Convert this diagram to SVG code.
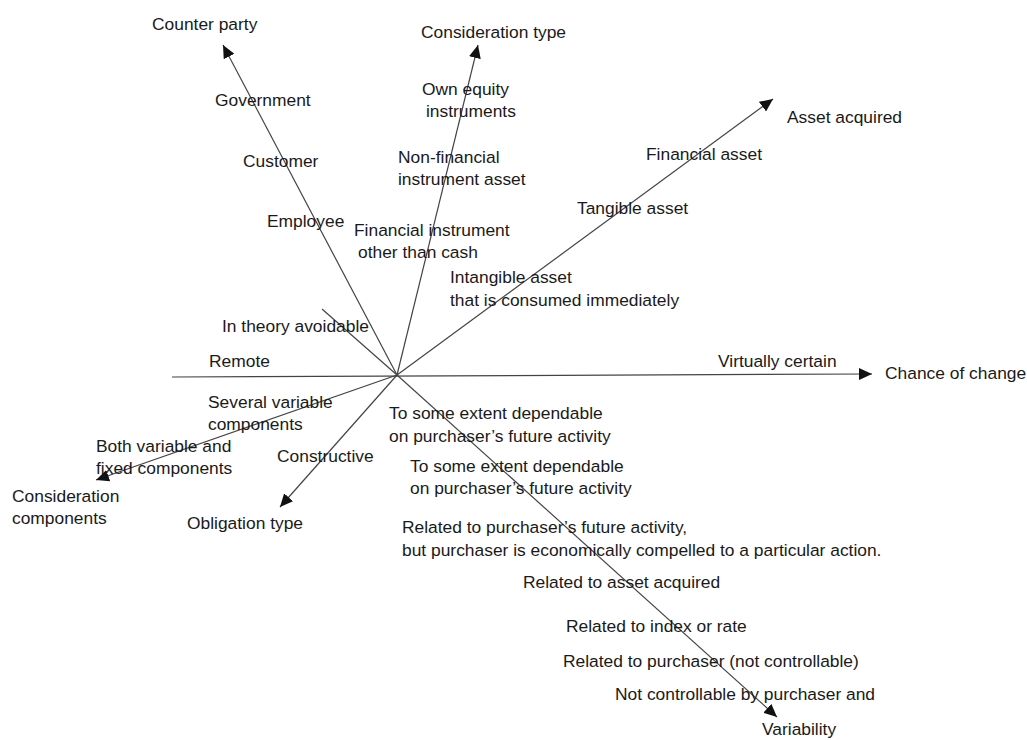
<svg xmlns="http://www.w3.org/2000/svg" width="1027" height="740" viewBox="0 0 1027 740">
<defs>
<marker id="ah" markerUnits="userSpaceOnUse" markerWidth="14" markerHeight="12" viewBox="0 0 14 12" refX="13" refY="6" orient="auto">
<path d="M0,0 L13,6 L0,12 Z" fill="#111"/>
</marker>
<style>
.ax{stroke:#444;stroke-width:1.2;fill:none}
.arr{marker-end:url(#ah)}
text{font-family:"Liberation Sans",Arial,sans-serif;font-size:17.4px;fill:#1a1a1a}
</style>
</defs>
<rect width="1027" height="740" fill="#fff"/>
<g id="connectors">
<line class="ax arr" x1="397" y1="375" x2="223" y2="45"/>
<line class="ax arr" x1="397" y1="375" x2="478" y2="45"/>
<line class="ax arr" x1="397" y1="375" x2="773" y2="99"/>
<line class="ax arr" x1="172" y1="377" x2="872" y2="374"/>
<line class="ax arr" x1="397" y1="375" x2="96" y2="480"/>
<line class="ax arr" x1="397" y1="375" x2="280" y2="507"/>
<line class="ax arr" x1="397" y1="375" x2="777" y2="717"/>
<line class="ax" x1="322" y1="309" x2="397" y2="375"/>
</g>
<g id="counter-party">
<text x="152" y="30">Counter party</text>
<text x="215" y="106">Government</text>
<text x="243" y="167">Customer</text>
<text x="267" y="227">Employee</text>
</g>
<g id="consideration-type">
<text x="421" y="38">Consideration type</text>
<text x="422" y="95">Own equity</text>
<text x="426" y="117">instruments</text>
<text x="398" y="163">Non-financial</text>
<text x="398" y="185">instrument asset</text>
<text x="354" y="236">Financial instrument</text>
<text x="358" y="258">other than cash</text>
</g>
<g id="asset-acquired">
<text x="787" y="123">Asset acquired</text>
<text x="646" y="160">Financial asset</text>
<text x="577" y="214">Tangible asset</text>
<text x="450" y="283">Intangible asset</text>
<text x="450" y="306">that is consumed immediately</text>
</g>
<g id="chance-of-change">
<text x="885" y="379">Chance of change</text>
<text x="718" y="367">Virtually certain</text>
<text x="209" y="367">Remote</text>
<text x="222" y="332">In theory avoidable</text>
</g>
<g id="consideration-components">
<text x="12" y="502">Consideration</text>
<text x="12" y="524">components</text>
<text x="208" y="408">Several variable</text>
<text x="208" y="430">components</text>
<text x="96" y="452">Both variable and</text>
<text x="96" y="474">fixed components</text>
</g>
<g id="obligation-type">
<text x="187" y="529">Obligation type</text>
<text x="277" y="462">Constructive</text>
</g>
<g id="variability">
<text x="389" y="419">To some extent dependable</text>
<text x="389" y="442">on purchaser’s future activity</text>
<text x="410" y="472">To some extent dependable</text>
<text x="410" y="494">on purchaser’s future activity</text>
<text x="402" y="533">Related to purchaser’s future activity,</text>
<text x="402" y="556">but purchaser is economically compelled to a particular action.</text>
<text x="523" y="588">Related to asset acquired</text>
<text x="566" y="632">Related to index or rate</text>
<text x="563" y="667">Related to purchaser (not controllable)</text>
<text x="615" y="700">Not controllable by purchaser and</text>
<text x="762" y="735">Variability</text>
</g>
</svg>
